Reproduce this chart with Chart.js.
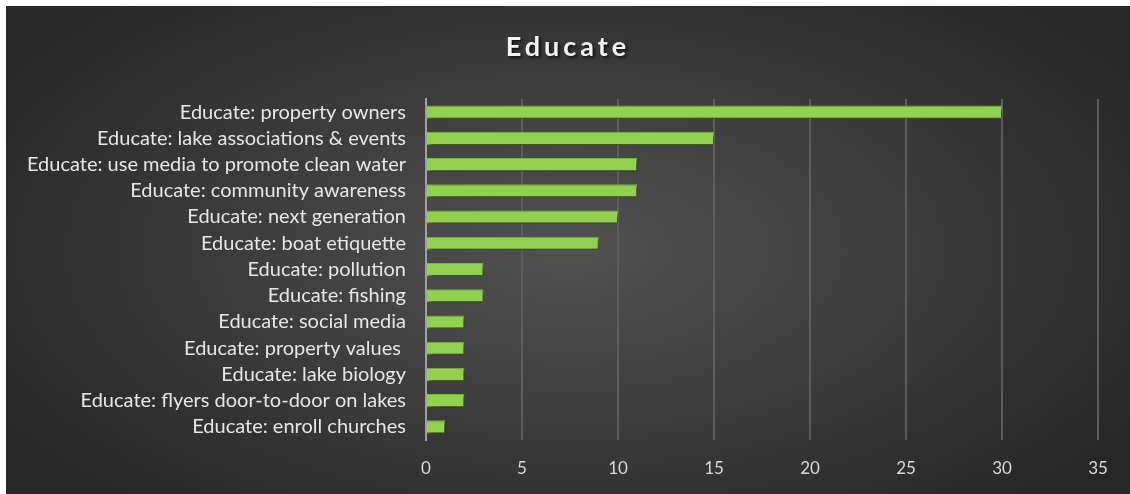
<!DOCTYPE html>
<html>
<head>
<meta charset="utf-8">
<script src="https://cdn.jsdelivr.net/npm/chart.js@4"></script>
<style>
  html, body { margin: 0; padding: 0; background: #fff; }
  #wrap {
    position: absolute; left: 6px; top: 6px; width: 1124px; height: 488px;
    background: radial-gradient(ellipse 60% 70% at 50% 50%, #525252 0%, #3e3e3e 45%, #262626 100%);
  }
  #title {
    position: absolute; left: 0; width: 100%; top: 23px; text-align: center;
    font-family: Lato, sans-serif; font-weight: bold; font-size: 27px;
    letter-spacing: 4px; color: #f2f2f2; text-shadow: 2px 2px 3px rgba(0,0,0,0.7);
  }
  canvas { position: absolute; left: 0; top: 0; }
</style>
</head>
<body>
<div id="wrap">
  <canvas id="chart" width="1124" height="488"></canvas>
  <div id="title">Educate</div>
</div>
<script>
const categories = [
  "Educate: property owners",
  "Educate: lake associations & events",
  "Educate: use media to promote clean water",
  "Educate: community awareness",
  "Educate: next generation",
  "Educate: boat etiquette",
  "Educate: pollution",
  "Educate: fishing",
  "Educate: social media",
  "Educate: property values ",
  "Educate: lake biology",
  "Educate: flyers door-to-door on lakes",
  "Educate: enroll churches"
];
const counts = [30, 15, 11, 11, 10, 9, 3, 3, 2, 2, 2, 2, 1];

const barShadow = {
  id: "barShadow",
  beforeDatasetsDraw(chart) {
    const ctx = chart.ctx;
    ctx.save();
    ctx.shadowColor = "rgba(0,0,0,0.6)";
    ctx.shadowOffsetX = 3;
    ctx.shadowOffsetY = 3;
    ctx.shadowBlur = 4;
  },
  afterDatasetsDraw(chart) {
    chart.ctx.restore();
  }
};

new Chart(document.getElementById("chart"), {
  type: "bar",
  data: {
    labels: categories,
    datasets: [{
      label: "Educate",
      data: counts,
      backgroundColor: "#92d050",
      borderColor: "#7cb83e",
      borderWidth: 1,
      categoryPercentage: 1,
      barPercentage: 0.5
    }]
  },
  plugins: [barShadow],
  options: {
    indexAxis: "y",
    responsive: false,
    animation: false,
    layout: { padding: { top: 93, right: 32, bottom: 0, left: 0 } },
    plugins: {
      legend: { display: false },
      title: { display: false },
      tooltip: { enabled: false }
    },
    scales: {
      x: {
        min: 0,
        max: 35,
        afterFit(scale) { scale.height = 54; },
        ticks: {
          stepSize: 5,
          color: "#d9d9d9",
          font: { family: "Lato", size: 17 },
          padding: 18
        },
        grid: { color: "#5d5d5d", lineWidth: 2, drawTicks: false },
        border: { display: false }
      },
      y: {
        afterFit(scale) { scale.width = 420; },
        ticks: {
          autoSkip: false,
          color: "#e6e6e6",
          font: { family: "Lato", size: 20 },
          padding: 20
        },
        grid: { display: false, drawTicks: false },
        border: { color: "#a0a0a0", width: 2 }
      }
    }
  }
});
</script>
</body>
</html>
